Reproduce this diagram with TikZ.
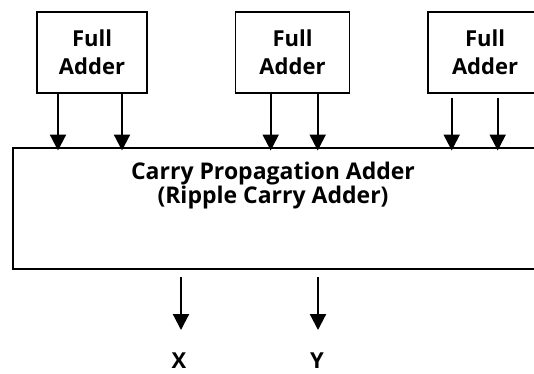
\documentclass[tikz,border=0pt]{standalone}
\usepackage{fontspec}
\setmainfont{Open Sans}
\usetikzlibrary{arrows.meta}
\begin{document}
\begin{tikzpicture}[x=1pt,y=-1pt,
  every node/.style={inner sep=0pt},
  lbl/.style={font=\bfseries\fontsize{22}{28}\selectfont, align=center},
  biglbl/.style={font=\bfseries\fontsize{23}{24}\selectfont, align=center},
  fabox/.style={draw, line width=1.6pt, minimum height=81pt, minimum width=114pt, lbl},
  arr/.style={line width=2.2pt, -{Triangle[width=16pt,length=16pt]}}]
\useasboundingbox (0,0) rectangle (534,373);
% full adder blocks (the last one runs past the right edge)
\node[fabox, minimum width=110pt] (fa1) at (92,52.5) {Full\\Adder};
\node[fabox] (fa2) at (292.5,52.5) {Full\\Adder};
\node[fabox] (fa3) at (485,52.5) {Full\\Adder};
% carry propagation adder
\node[draw, line width=1.6pt, minimum width=560pt, minimum height=121pt, anchor=north west] (cpa) at (12,147) {};
\node[biglbl] (cpat) at (273,186) {Carry Propagation Adder\\(Ripple Carry Adder)};
% inputs from the full adders
\foreach \s/\x in {fa1/58, fa1/122, fa2/270.7, fa2/317.7} {
  \draw[arr, shorten >=-3.5pt] (\s.south -| \x,0) -- (cpa.north -| \x,0);
}
\foreach \x in {451.7, 497.7} {
  \draw[arr, shorten >=-3.5pt, shorten <=4pt] (fa3.south -| \x,0) -- (cpa.north -| \x,0);
}
% outputs
\node[lbl] (X) at (179,361) {X};
\node[lbl] (Y) at (317,361) {Y};
\coordinate (xo) at (181,277);
\coordinate (yo) at (318,277);
\draw[arr] (xo) -- (xo |- 0,330);
\draw[arr] (yo) -- (yo |- 0,330);
\end{tikzpicture}
\end{document}
